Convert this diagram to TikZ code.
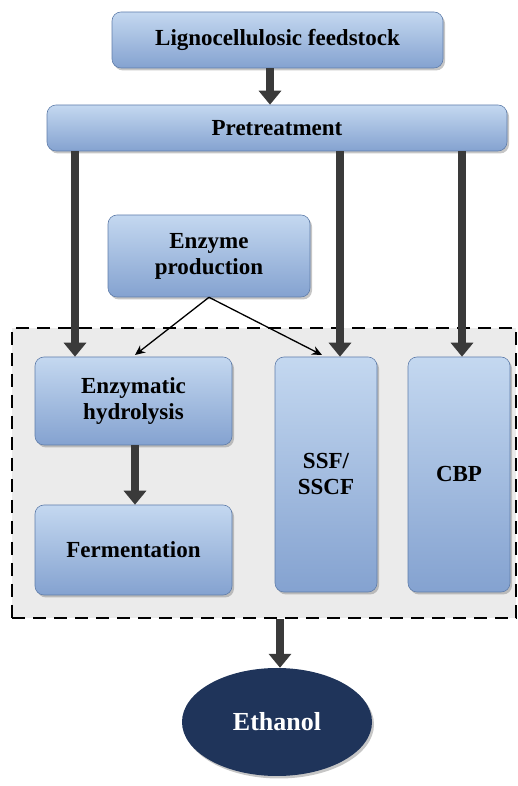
\documentclass[tikz,border=0pt]{standalone}
\usepackage{fontspec}
\setmainfont{Liberation Serif}[BoldFont={Liberation Serif Bold}]
\newfontfamily\tnrb{Liberation Serif Bold}
\usetikzlibrary{arrows.meta,shadows,shapes.geometric}
\definecolor{boxtop}{RGB}{196,216,240}
\definecolor{boxmid}{RGB}{158,187,226}
\definecolor{boxbot}{RGB}{132,162,208}
\definecolor{boxline}{RGB}{95,125,170}
\definecolor{arrowgray}{RGB}{58,58,58}
\definecolor{regiongray}{RGB}{235,235,235}
\definecolor{navy}{RGB}{31,52,90}
\begin{document}
\begin{tikzpicture}[x=1pt,y=1pt,
  boxst/.style={draw=boxline, line width=0.6pt, rounded corners=9pt,
    top color=boxtop, middle color=boxmid, bottom color=boxbot,
    drop shadow={shadow xshift=2pt,shadow yshift=-2.5pt,opacity=0.45},
    font=\tnrb\fontsize{23}{26}\selectfont, align=center, inner sep=0pt},
  bigarrow/.style={line width=8pt, draw=arrowgray,
    -{Triangle[width=22pt,length=14pt]}},
  thinarrow/.style={line width=1.3pt, draw=black, -{Stealth[length=10pt,width=9pt]}},
  regionst/.style={draw=black, line width=2.2pt, dash pattern=on 13pt off 8pt, fill=regiongray}]
\useasboundingbox (0,0) rectangle (518,786);
% dashed region
\node[regionst, minimum width=504pt, minimum height=290pt, inner sep=0pt] (region) at (264,313) {};
% boxes
\node[boxst, minimum width=331pt, minimum height=56pt] (feed) at (277.5,746) {Lignocellulosic feedstock};
\node[boxst, minimum width=460pt, minimum height=46pt] (pre) at (277,658) {Pretreatment};
\node[boxst, minimum width=202pt, minimum height=82pt] (enz) at (209,530) {Enzyme\\production};
\node[boxst, minimum width=197pt, minimum height=88pt] (hyd) at (133.5,385) {Enzymatic\\hydrolysis};
\node[boxst, minimum width=197pt, minimum height=90pt] (fer) at (133.5,236) {Fermentation};
\node[boxst, minimum width=102pt, minimum height=235pt] (ssf) at (326,311.5) {SSF/\\SSCF};
\node[boxst, minimum width=102pt, minimum height=235pt] (cbp) at (459,311.5) {CBP};
\node[ellipse, fill=navy, minimum width=190pt, minimum height=108pt, inner sep=0pt,
  drop shadow={shadow xshift=2pt,shadow yshift=-2.5pt,opacity=0.45},
  text=white, font=\tnrb\fontsize{26}{30}\selectfont] (eth) at (277,64) {Ethanol};
% helper x positions
\coordinate (xa) at (75,0);
\coordinate (xb) at (340,0);
\coordinate (xc) at (462,0);
\coordinate (xf) at (270,0);
\coordinate (xh) at (135,0);
\coordinate (xe) at (280,0);
\coordinate (t1) at (135,431);
\coordinate (t2) at (322,431);
% arrows
\draw[bigarrow] (feed.south -| xf) -- (pre.north -| xf);
\draw[bigarrow] (pre.south -| xa) -- (hyd.north -| xa);
\draw[bigarrow] (pre.south -| xb) -- (ssf.north -| xb);
\draw[bigarrow] (pre.south -| xc) -- (cbp.north -| xc);
\draw[bigarrow] (hyd.south -| xh) -- (fer.north -| xh);
\draw[bigarrow] (region.south -| xe) -- (eth.north -| xe);
\draw[thinarrow] (enz.south) -- (t1);
\draw[thinarrow] (enz.south) -- (t2);
\end{tikzpicture}
\end{document}
